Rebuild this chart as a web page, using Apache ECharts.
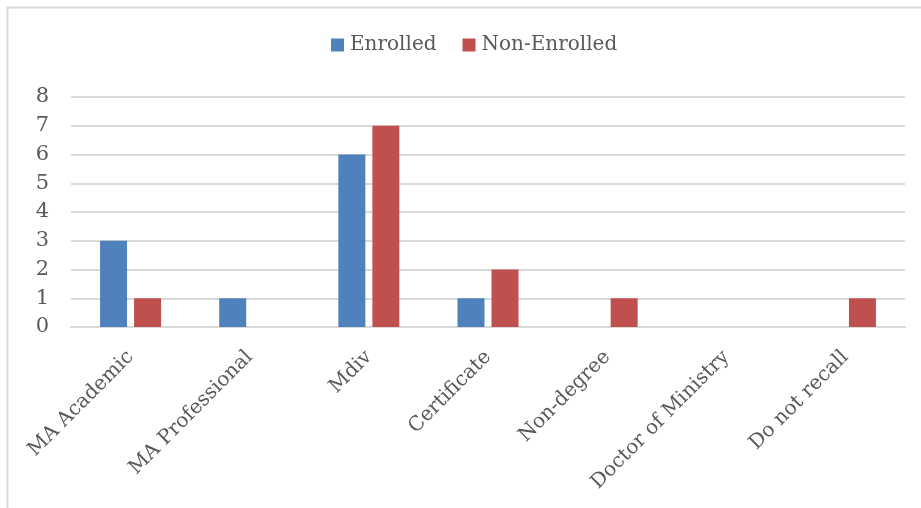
<!DOCTYPE html>
<html>
<head>
<meta charset="utf-8">
<script src="https://cdn.jsdelivr.net/npm/echarts@6/dist/echarts.min.js"></script>
<style>
  html, body { margin: 0; padding: 0; background: #ffffff; }
  #chart { width: 921px; height: 508px; }
</style>
</head>
<body>
<div id="chart"></div>
<script>
// Degree programs and respondent counts
const categories = ['MA Academic', 'MA Professional', 'Mdiv', 'Certificate', 'Non-degree', 'Doctor of Ministry', 'Do not recall'];
const enrolled = [3, 1, 6, 1, 0, 0, 0];
const nonEnrolled = [1, 0, 7, 2, 1, 0, 1];
const seriesNames = ['Enrolled', 'Non-Enrolled'];
const yTicks = { min: 0, max: 8, interval: 1 };

const FONT = 'DejaVu Serif';
const TEXT = '#595959';

const chart = echarts.init(document.getElementById('chart'), null, { renderer: 'canvas' });

chart.setOption({
  backgroundColor: '#ffffff',
  animation: false,
  graphic: [{
    type: 'rect',
    shape: { x: 7.5, y: 7.5, width: 960, height: 560 },
    style: { fill: 'none', stroke: '#d9d9d9', lineWidth: 2 },
    silent: true
  }],
  legend: {
    data: seriesNames,
    top: 35,
    left: 331,
    padding: 0,
    itemWidth: 13,
    itemHeight: 13,
    itemGap: 26,
    icon: 'rect',
    textStyle: { fontFamily: FONT, fontSize: 20, color: TEXT, padding: [0, 0, 0, 1] }
  },
  grid: { left: 71, right: 16, top: 97, bottom: 181, containLabel: false },
  xAxis: {
    type: 'category',
    data: categories,
    axisLine: { lineStyle: { color: '#d9d9d9', width: 2 } },
    axisTick: { show: false },
    axisLabel: {
      interval: 0,
      rotate: 45,
      margin: 27,
      fontFamily: FONT,
      fontSize: 20,
      color: TEXT
    }
  },
  yAxis: {
    type: 'value',
    min: yTicks.min,
    max: yTicks.max,
    interval: yTicks.interval,
    axisLine: { show: false },
    axisTick: { show: false },
    splitLine: { lineStyle: { color: '#d9d9d9', width: 2 } },
    axisLabel: { fontFamily: FONT, fontSize: 21, color: TEXT, margin: 22 }
  },
  series: [
    {
      name: seriesNames[0],
      type: 'bar',
      data: enrolled,
      barWidth: 27,
      barGap: '26%',
      itemStyle: { color: '#4f81bd' }
    },
    {
      name: seriesNames[1],
      type: 'bar',
      data: nonEnrolled,
      barWidth: 27,
      barGap: '26%',
      itemStyle: { color: '#c0504d' }
    }
  ]
});
</script>
</body>
</html>
